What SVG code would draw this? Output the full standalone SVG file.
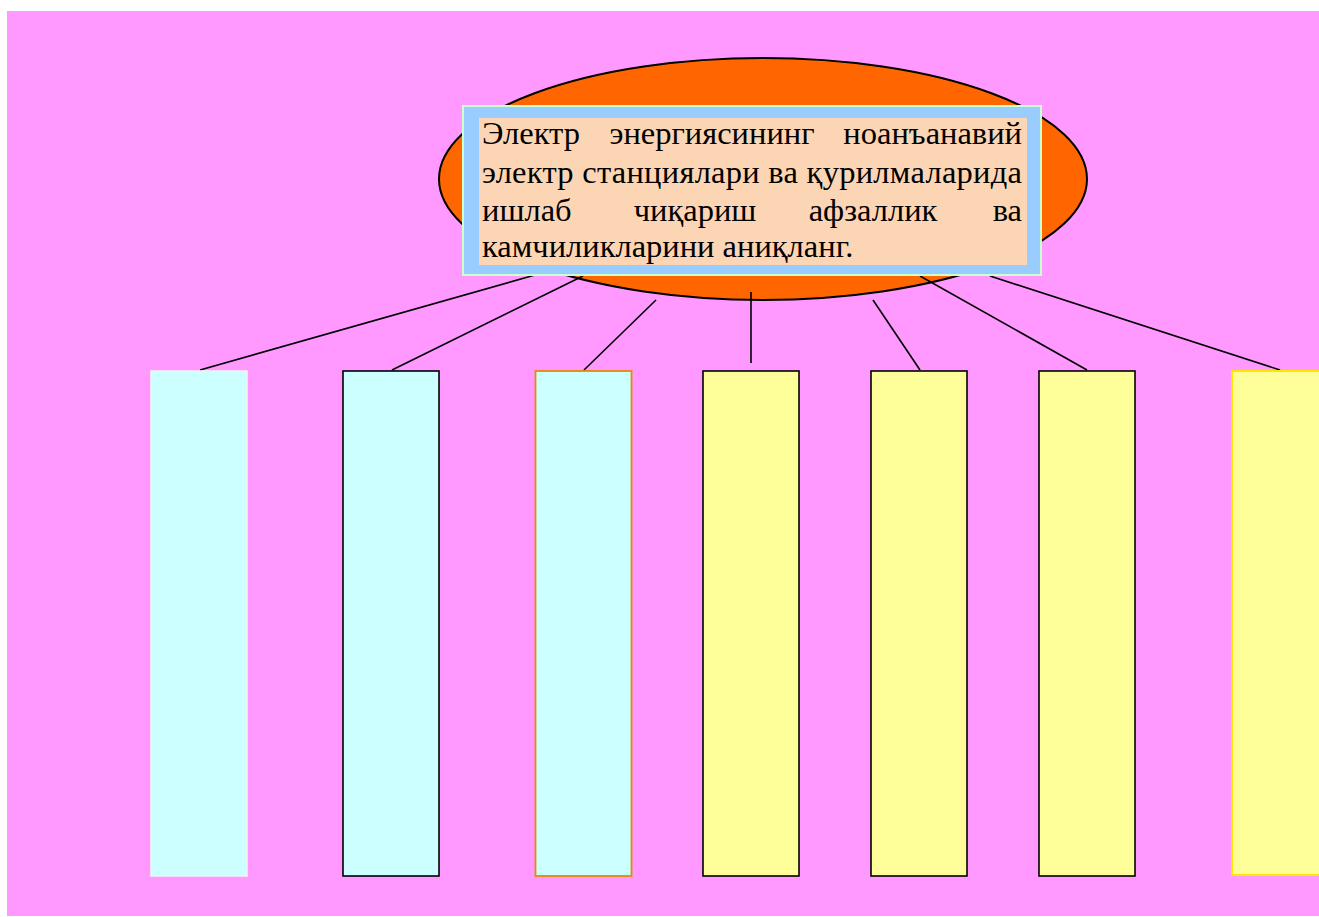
<svg xmlns="http://www.w3.org/2000/svg" width="1319" height="917" viewBox="0 0 1319 917">
<style>
.t{font-family:"Liberation Serif","Times New Roman",serif;font-size:32.5px;fill:#000}
.m{text-anchor:middle}
.e{text-anchor:end}
.c line{stroke:#000;stroke-width:1.6}
.cy{fill:#CCFFFF}
.ye{fill:#FFFF99}
</style>
<rect x="0" y="0" width="1319" height="917" fill="#FFFFFF"/>
<rect x="7" y="11" width="1312" height="905" fill="#FF99FF"/>
<g id="ellipse">
<ellipse cx="763" cy="179" rx="324" ry="121" fill="#FF6600" stroke="#000" stroke-width="2"/>
</g>
<g id="connectors" class="c">
<line x1="535" y1="275" x2="200" y2="370"/>
<line x1="583" y1="276" x2="392" y2="370"/>
<line x1="656" y1="300" x2="584" y2="370"/>
<line x1="751" y1="292" x2="751" y2="363"/>
<line x1="873" y1="300" x2="920" y2="370"/>
<line x1="920" y1="276" x2="1087" y2="370"/>
<line x1="990" y1="276" x2="1280" y2="370"/>
</g>
<g id="title">
<rect x="463" y="106" width="578" height="169" fill="#99CCFF" stroke="#CCFFCC" stroke-width="2"/>
<rect x="479" y="118" width="548" height="147" fill="#FCD5B4"/>
<text class="t" x="482" y="144">Электр</text>
<text class="t m" x="712" y="144">энергиясининг</text>
<text class="t e" x="1022" y="144">ноанъанавий</text>
<text class="t" x="482" y="182.5" textLength="540" lengthAdjust="spacing">электр станциялари ва қурилмаларида</text>
<text class="t" x="482" y="221">ишлаб</text>
<text class="t m" x="695" y="221">чиқариш</text>
<text class="t m" x="873" y="221">афзаллик</text>
<text class="t e" x="1022" y="221">ва</text>
<text class="t" x="482" y="257">камчиликларини аниқланг.</text>
</g>
<g id="box1"><rect class="cy" x="151" y="371" width="96" height="505" stroke="#F4F4F4" stroke-width="1.5"/></g>
<g id="box2"><rect class="cy" x="343" y="371" width="96" height="505" stroke="#000" stroke-width="1.6"/></g>
<g id="box3"><rect class="cy" x="535.5" y="371" width="96" height="505" stroke="#E68A00" stroke-width="1.8"/></g>
<g id="box4"><rect class="ye" x="703" y="371" width="96" height="505" stroke="#000" stroke-width="1.6"/></g>
<g id="box5"><rect class="ye" x="871" y="371" width="96" height="505" stroke="#000" stroke-width="1.6"/></g>
<g id="box6"><rect class="ye" x="1039" y="371" width="96" height="505" stroke="#000" stroke-width="1.6"/></g>
<g id="box7"><rect class="ye" x="1232" y="371" width="100" height="504" stroke="#FFE600" stroke-width="2"/></g>
</svg>
